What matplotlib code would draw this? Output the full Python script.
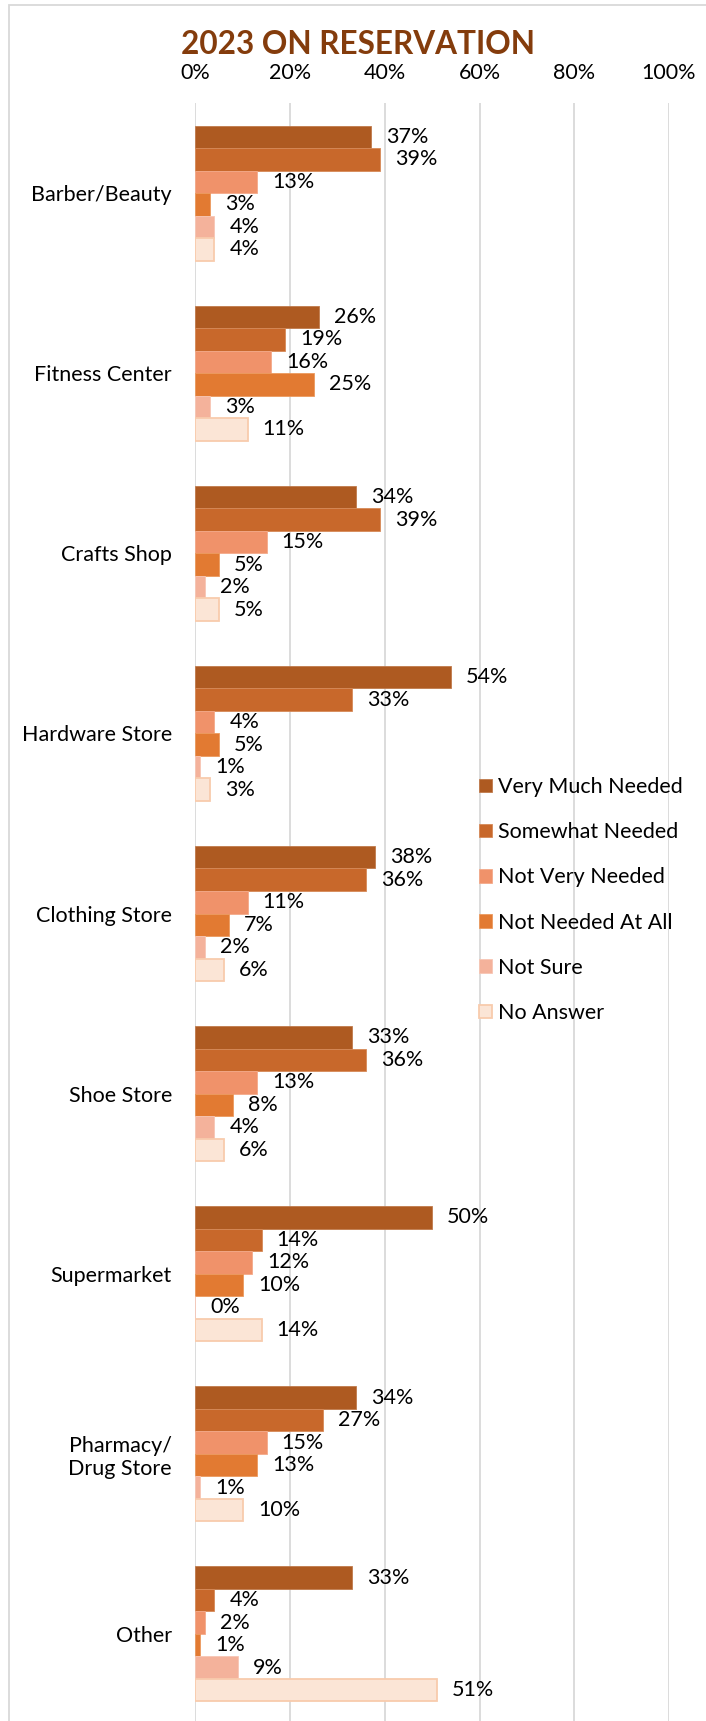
import matplotlib
matplotlib.use("Agg")
import matplotlib.pyplot as plt
import numpy as np
from matplotlib.patches import Rectangle, Patch

plt.rcParams['font.family'] = ['Lato', 'DejaVu Sans']

categories = ["Barber/Beauty", "Fitness Center", "Crafts Shop", "Hardware Store",
              "Clothing Store", "Shoe Store", "Supermarket", "Pharmacy/\nDrug Store", "Other"]
series_names = ["Very Much Needed", "Somewhat Needed", "Not Very Needed",
                "Not Needed At All", "Not Sure", "No Answer"]
very_much = [37, 26, 34, 54, 38, 33, 50, 34, 33]
somewhat = [39, 19, 39, 33, 36, 36, 14, 27, 4]
not_very = [13, 16, 15, 4, 11, 13, 12, 15, 2]
not_at_all = [3, 25, 5, 5, 7, 8, 10, 13, 1]
not_sure = [4, 3, 2, 1, 2, 4, 0, 1, 9]
no_answer = [4, 11, 5, 3, 6, 6, 14, 10, 51]
series_values = [very_much, somewhat, not_very, not_at_all, not_sure, no_answer]
x_ticks = [0, 20, 40, 60, 80, 100]
x_tick_labels = ["0%", "20%", "40%", "60%", "80%", "100%"]

fills = ["#AE5A21", "#C8682B", "#F0926A", "#E27A32", "#F4B29B", "#FBE5D6"]
edges = ["#C07A4C", "#D68A58", "#F4AA8A", "#EC9A5E", "#F7C6B5", "#F8CBAD"]
lws = [0.6, 0.6, 0.6, 0.6, 0.6, 1.3]

W, H = 706, 1721
fig = plt.figure(figsize=(W / 100, H / 100), dpi=100)

# outer chart frame
fig.patches.append(Rectangle((9 / W, -0.05), 1.0, 1 - 5 / H + 0.05, transform=fig.transFigure,
                             fill=False, edgecolor="#D9D9D9", linewidth=1.3, zorder=0))

left_px, right_px = 195.5, 669.0
top_px, bot_px = 103.0, 1724.0
ax = fig.add_axes([left_px / W, 1 - bot_px / H, (right_px - left_px) / W, (bot_px - top_px) / H])
ax.set_facecolor("none")

n = len(categories)
y = np.arange(n)
bh = 0.125
for i, vals in enumerate(series_values):
    pos = y - 0.375 + bh * (i + 0.5)
    ax.barh(pos, vals, height=bh, color=fills[i], edgecolor=edges[i], linewidth=lws[i],
            label=series_names[i], zorder=2)
    for p, v in zip(pos, vals):
        ax.annotate(f"{v}%", xy=(v, p), xytext=(15, 0), textcoords="offset pixels",
                    va="center", ha="left", fontsize=15.5, color="#000000", zorder=3)

ax.set_xlim(0, 100)
ax.set_ylim(n - 0.5, -0.5)
ax.set_xticks(x_ticks)
ax.set_xticklabels(x_tick_labels)
ax.xaxis.tick_top()
ax.set_yticks(y)
ax.set_yticklabels(categories, multialignment="center")
ax.tick_params(axis="both", length=0, labelsize=15.5, colors="#000000")
ax.tick_params(axis="x", pad=14.5)
ax.tick_params(axis="y", pad=17)
for s in ax.spines.values():
    s.set_visible(False)
ax.grid(axis="x", color="#D9D9D9", linewidth=1.3, zorder=0)
ax.set_axisbelow(True)

handles = [Patch(facecolor=fills[i], edgecolor=edges[i], linewidth=lws[i]) for i in range(6)]
leg = fig.legend(handles, series_names, loc="upper left",
                 bbox_to_anchor=(479 / W, 1 - 777 / H), frameon=False,
                 fontsize=15.5, handlelength=0.6, handleheight=0.6, handletextpad=0.3,
                 labelspacing=1.17, borderpad=0, borderaxespad=0)

fig.text(358 / W, 1 - 44 / H, "2023 ON RESERVATION", ha="center", va="center",
         fontsize=22.7, fontweight="bold", color="#843C0C")

fig.savefig("out.png", dpi=100)
